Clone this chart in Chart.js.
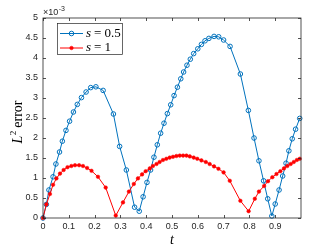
<!DOCTYPE html>
<html><head><meta charset="utf-8">
<script src="https://cdn.jsdelivr.net/npm/chart.js@4/dist/chart.umd.min.js"></script>
<style>html,body{margin:0;padding:0;background:#fff;overflow:hidden;}</style>
</head><body>
<canvas id="c" width="332" height="249"></canvas>
<script>
// ---- data (error values in units of 10^-3) ----
const tS05 = [0,0.013,0.023,0.039,0.05,0.064,0.075,0.089,0.103,0.118,0.133,0.149,0.167,0.185,0.205,0.233,0.273,0.297,0.323,0.355,0.373,0.388,0.403,0.417,0.43,0.443,0.456,0.469,0.482,0.495,0.508,0.521,0.534,0.545,0.558,0.571,0.584,0.6,0.614,0.628,0.643,0.663,0.681,0.7,0.725,0.765,0.796,0.818,0.837,0.855,0.871,0.887,0.9,0.915,0.929,0.942,0.953,0.966,0.979,0.995];
const errS05 = [0,0.34,0.70,1.03,1.35,1.65,1.92,2.19,2.42,2.65,2.84,3.01,3.15,3.26,3.28,3.19,2.60,1.79,1.20,0.27,0.17,0.53,0.89,1.20,1.52,1.83,2.12,2.37,2.61,2.83,3.06,3.27,3.48,3.65,3.82,3.97,4.11,4.23,4.34,4.43,4.49,4.54,4.53,4.45,4.29,3.60,2.69,2.00,1.43,0.93,0.48,0.05,0.35,0.70,1.05,1.37,1.68,1.98,2.22,2.49];
const tS1 = [0,0.013,0.027,0.039,0.052,0.066,0.08,0.095,0.11,0.124,0.14,0.155,0.171,0.188,0.213,0.243,0.282,0.31,0.333,0.352,0.368,0.384,0.398,0.414,0.426,0.44,0.452,0.465,0.478,0.491,0.504,0.517,0.53,0.543,0.556,0.569,0.584,0.598,0.614,0.631,0.646,0.663,0.68,0.70,0.724,0.765,0.797,0.821,0.837,0.857,0.872,0.889,0.905,0.92,0.934,0.947,0.96,0.972,0.984,0.995];
const errS1 = [0,0.34,0.60,0.83,0.99,1.11,1.20,1.27,1.30,1.32,1.32,1.30,1.25,1.18,1.03,0.76,0.06,0.39,0.66,0.85,0.99,1.09,1.17,1.24,1.30,1.35,1.40,1.45,1.48,1.51,1.53,1.55,1.56,1.56,1.56,1.54,1.51,1.48,1.44,1.40,1.35,1.29,1.23,1.14,0.93,0.43,0.17,0.48,0.66,0.80,0.92,1.02,1.10,1.17,1.24,1.30,1.35,1.40,1.45,1.48];
const sValues = ['0.5', '1'];
const xTickValues = [0,0.1,0.2,0.3,0.4,0.5,0.6,0.7,0.8,0.9];
const yTickValues = [0,0.5,1,1.5,2,2.5,3,3.5,4,4.5,5];
const yExponent = '-3';
const xTitle = 't';
const yTitleMain = 'L';
const yTitleSup = '2';
const yTitleRest = ' error';

const BLUE = '#0072BD', RED = '#FF0000', AX = '#262626';
const tickFont = {family: 'Liberation Sans, Arial, sans-serif', size: 9};

function pts(xs, ys){ return xs.map((x,i)=>({x:x, y:ys[i]})); }

const decor = {
  id: 'decor',
  afterDraw(chart){
    const ctx = chart.ctx, a = chart.chartArea;
    const xs = chart.scales.x, ys = chart.scales.y;
    ctx.save();
    // box
    ctx.strokeStyle = AX; ctx.lineWidth = 0.8;
    ctx.strokeRect(a.left, a.top, a.right - a.left, a.bottom - a.top);
    // inward ticks
    const tl = 3;
    ctx.beginPath();
    xTickValues.forEach(v => {
      const px = Math.round(xs.getPixelForValue(v)) + 0.5;
      ctx.moveTo(px, a.bottom); ctx.lineTo(px, a.bottom - tl);
      ctx.moveTo(px, a.top); ctx.lineTo(px, a.top + tl);
    });
    yTickValues.forEach(v => {
      const py = Math.round(ys.getPixelForValue(v)) + 0.5;
      ctx.moveTo(a.left, py); ctx.lineTo(a.left + tl, py);
      ctx.moveTo(a.right, py); ctx.lineTo(a.right - tl, py);
    });
    ctx.stroke();
    // exponent
    ctx.fillStyle = AX; ctx.textBaseline = 'alphabetic'; ctx.textAlign = 'left';
    ctx.font = '9px Liberation Sans, Arial, sans-serif';
    ctx.fillText('\u00d710', a.left, a.top - 3);
    const w10 = ctx.measureText('\u00d710').width;
    ctx.font = '7px Liberation Sans, Arial, sans-serif';
    ctx.fillText(yExponent, a.left + w10 + 0.5, a.top - 7);
    // x title
    ctx.fillStyle = '#000';
    ctx.font = 'italic 14px Liberation Serif, Times New Roman, serif';
    ctx.textAlign = 'center'; ctx.textBaseline = 'alphabetic';
    ctx.fillText(xTitle, (a.left + a.right)/2, 244);
    // y title
    ctx.save();
    ctx.translate(22, 122);
    ctx.rotate(-Math.PI/2);
    ctx.textAlign = 'left';
    ctx.font = 'italic 14px Liberation Serif, Times New Roman, serif';
    const wL = ctx.measureText(yTitleMain).width;
    ctx.font = '9px Liberation Serif, Times New Roman, serif';
    const w2 = ctx.measureText(yTitleSup).width;
    ctx.font = '14px Liberation Serif, Times New Roman, serif';
    const wR = ctx.measureText(yTitleRest).width;
    let x0 = -(wL + w2 + wR)/2;
    ctx.font = 'italic 14px Liberation Serif, Times New Roman, serif';
    ctx.fillText(yTitleMain, x0, 0); x0 += wL + 0.5;
    ctx.font = '9px Liberation Serif, Times New Roman, serif';
    ctx.fillText(yTitleSup, x0, -6); x0 += w2 - 0.5;
    ctx.font = '14px Liberation Serif, Times New Roman, serif';
    ctx.fillText(yTitleRest, x0, 0);
    ctx.restore();
    // legend
    const lx = 57.5, ly = 23.5, lw = 65, lh = 31;
    ctx.fillStyle = '#fff'; ctx.fillRect(lx, ly, lw, lh);
    ctx.strokeStyle = AX; ctx.lineWidth = 0.7; ctx.strokeRect(lx, ly, lw, lh);
    chart.data.datasets.forEach((ds, i) => {
      const yy = 33.5 + i * 14.5;
      ctx.strokeStyle = ds.borderColor; ctx.lineWidth = 1;
      ctx.beginPath(); ctx.moveTo(60, yy); ctx.lineTo(83, yy); ctx.stroke();
      ctx.beginPath(); ctx.arc(71.5, yy, ds.pointRadius, 0, Math.PI*2);
      if (ds.pointBackgroundColor !== 'transparent') { ctx.fillStyle = ds.pointBackgroundColor; ctx.fill(); }
      ctx.strokeStyle = ds.pointBorderColor; ctx.lineWidth = ds.pointBorderWidth; ctx.stroke();
      ctx.fillStyle = '#000'; ctx.textAlign = 'left'; ctx.textBaseline = 'middle';
      let tx = 86;
      ctx.font = 'italic 13px Liberation Serif, Times New Roman, serif';
      ctx.fillText('s', tx, yy); tx += ctx.measureText('s').width + 3;
      ctx.font = '13px Liberation Serif, Times New Roman, serif';
      ctx.fillText('=', tx, yy); tx += ctx.measureText('=').width + 3;
      ctx.fillText(sValues[i], tx, yy);
    });
    ctx.restore();
  }
};

new Chart(document.getElementById('c'), {
  type: 'scatter',
  data: {
    datasets: [
      { label: 's = ' + sValues[0], data: pts(tS05, errS05), showLine: true,
        borderColor: BLUE, borderWidth: 1, pointRadius: 2.3, pointBorderWidth: 1,
        pointBorderColor: BLUE, pointBackgroundColor: 'transparent', order: 1, clip: 6 },
      { label: 's = ' + sValues[1], data: pts(tS1, errS1), showLine: true,
        borderColor: RED, borderWidth: 1, pointRadius: 1.8, pointBorderWidth: 0.5,
        pointBorderColor: RED, pointBackgroundColor: RED, order: 0, clip: 6 }
    ]
  },
  options: {
    responsive: false, animation: false, devicePixelRatio: 1,
    layout: { padding: { left: 0, top: 18, right: 31, bottom: 0 } },
    plugins: { legend: { display: false }, tooltip: { enabled: false } },
    elements: { line: { tension: 0 } },
    scales: {
      x: { type: 'linear', min: 0, max: 1,
        afterFit: s => { s.height = 31; },
        afterBuildTicks: s => { s.ticks = xTickValues.map(v => ({value: v})); },
        ticks: { font: tickFont, color: AX, padding: 3, maxRotation: 0, autoSkip: false,
          callback: v => String(Math.round(v*10)/10) },
        grid: { display: false, drawTicks: false }, border: { display: false } },
      y: { type: 'linear', min: 0, max: 5,
        afterFit: s => { s.width = 43; },
        afterBuildTicks: s => { s.ticks = yTickValues.map(v => ({value: v})); },
        ticks: { font: tickFont, color: AX, padding: 5, autoSkip: false,
          callback: v => String(Math.round(v*10)/10) },
        grid: { display: false, drawTicks: false }, border: { display: false } }
    }
  },
  plugins: [decor]
});
</script>
</body></html>
